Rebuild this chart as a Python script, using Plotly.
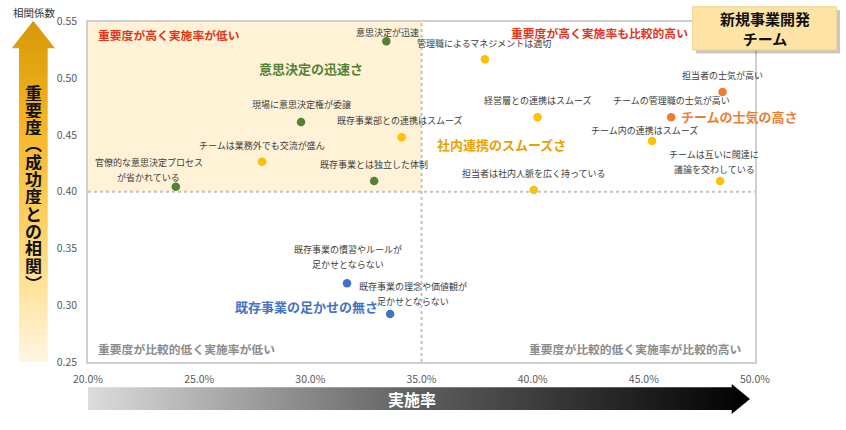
import plotly.graph_objects as go

W, H = 846, 430
FONT = "Noto Sans CJK JP"

# ---- データ ----
labels = [
    "意思決定が迅速",
    "現場に意思決定権が委譲",
    "既存事業部との連携はスムーズ",
    "チームは業務外でも交流が盛ん",
    "官僚的な意思決定プロセス\nが省かれている",
    "既存事業とは独立した体制",
    "管理職によるマネジメントは適切",
    "担当者の士気が高い",
    "経営層との連携はスムーズ",
    "チームの管理職の士気が高い",
    "チーム内の連携はスムーズ",
    "チームは互いに闊達に\n議論を交わしている",
    "担当者は社内人脈を広く持っている",
    "既存事業の慣習やルールが\n足かせとならない",
    "既存事業の理念や価値観が\n足かせとならない",
]
rate = [0.3342, 0.2958, 0.3411, 0.2783, 0.2395, 0.3287, 0.3785, 0.4854,
        0.4022, 0.4623, 0.4537, 0.4843, 0.4005, 0.3165, 0.3359]
corr = [0.5326, 0.4615, 0.4480, 0.4265, 0.4045, 0.4095, 0.5167, 0.4879,
        0.4656, 0.4656, 0.4447, 0.4095, 0.4015, 0.3193, 0.2923]
group = ["意思決定の迅速さ", "意思決定の迅速さ", "社内連携のスムーズさ", "社内連携のスムーズさ",
         "意思決定の迅速さ", "意思決定の迅速さ", "社内連携のスムーズさ", "チームの士気の高さ",
         "社内連携のスムーズさ", "チームの士気の高さ", "社内連携のスムーズさ", "社内連携のスムーズさ",
         "社内連携のスムーズさ", "既存事業の足かせの無さ", "既存事業の足かせの無さ"]

group_names = ["意思決定の迅速さ", "社内連携のスムーズさ", "チームの士気の高さ", "既存事業の足かせの無さ"]
quadrants = ["重要度が高く実施率が低い", "重要度が高く実施率も比較的高い",
             "重要度が比較的低く実施率が低い", "重要度が比較的低く実施率が比較的高い"]
x_ticks = [0.20, 0.25, 0.30, 0.35, 0.40, 0.45, 0.50]
y_ticks = [0.25, 0.30, 0.35, 0.40, 0.45, 0.50, 0.55]
x_mid, y_mid = 0.35, 0.40

# ---- スタイル ----
marker_color = {"意思決定の迅速さ": "#548235", "社内連携のスムーズさ": "#FFC000",
                "チームの士気の高さ": "#ED7D31", "既存事業の足かせの無さ": "#4472C4"}
name_color = {"意思決定の迅速さ": "#548235", "社内連携のスムーズさ": "#E8A200",
              "チームの士気の高さ": "#ED7D31", "既存事業の足かせの無さ": "#4472C4"}
name_pos = {"意思決定の迅速さ": (0.3005, 0.5082), "社内連携のスムーズさ": (0.386, 0.4418),
            "チームの士気の高さ": (0.4932, 0.4667), "既存事業の足かせの無さ": (0.2982, 0.2993)}
# ラベルの位置 (点からのピクセル移動: 右, 下)
label_off = [(1, -9), (0, -17), (-2, -17), (0, -16), (-27, -17), (0, -16), (-1, -16),
             (0, -16), (0, -17), (0, -17), (-8, -11), (-6, -19), (0, -17), (1, -26), (23, -20)]

# プロット領域 (ピクセル)
L, R, T, B = 88, 755, 21.5, 362

fig = go.Figure()

fig.add_trace(go.Scatter(
    x=rate, y=corr, mode="markers",
    marker=dict(size=8.5, color=[marker_color[g] for g in group]),
    hoverinfo="text", hovertext=[t.replace("\n", "") for t in labels],
    showlegend=False,
))

# 矢印 (装飾): 全体を覆う補助軸の上に描く
def py(v):
    return H - v

up_x = [19, 19, 11.7, 33.3, 55, 47.7, 47.7, 19]
up_y = [B, 48.3, 48.3, 20.7, 48.3, 48.3, B, B]
fig.add_trace(go.Scatter(
    x=up_x, y=[py(v) for v in up_y], xaxis="x2", yaxis="y2",
    mode="lines", line=dict(width=0), fill="toself",
    fillgradient=dict(type="vertical",
                      colorscale=[[0, "#FFF6E2"], [0.35, "#FFD672"], [0.7, "#F6B523"], [1, "#D69806"]]),
    hoverinfo="skip", showlegend=False,
))
rt_x = [L, 731.7, 731.7, 750, 731.7, 731.7, L, L]
rt_y = [387.3, 387.3, 384, 399, 414, 410, 410, 387.3]
fig.add_trace(go.Scatter(
    x=rt_x, y=[py(v) for v in rt_y], xaxis="x2", yaxis="y2",
    mode="lines", line=dict(width=0), fill="toself",
    fillgradient=dict(type="horizontal",
                      colorscale=[[0, "#DCDCDC"], [0.5, "#5E5E5E"], [1, "#000000"]]),
    hoverinfo="skip", showlegend=False,
))

ann = []
# 点のラベル
for i, t in enumerate(labels):
    lines = t.split("\n")
    n = len(lines)
    dx, dy = label_off[i]
    for k, ln in enumerate(lines):
        ann.append(dict(x=rate[i], y=corr[i], xref="x", yref="y", text=ln, showarrow=False,
                        xshift=dx, yshift=-(dy + (k - (n - 1) / 2) * 15),
                        font=dict(family=FONT, size=9, color="#3C3C3C")))
# グループ名
for g in group_names:
    gx, gy = name_pos[g]
    ann.append(dict(x=gx, y=gy, xref="x", yref="y", text="<b>%s</b>" % g, showarrow=False,
                    font=dict(family=FONT, size=13, color=name_color[g])))
# 象限ラベル
qstyle = [("#E2361B", 0.2038, 0.5387, "left"), ("#E2361B", 0.4302, 0.5407, "center"),
          ("#8C8C8C", 0.2038, 0.2623, "left"), ("#8C8C8C", 0.495, 0.2623, "right")]
for q, (c, qx, qy, xa) in zip(quadrants, qstyle):
    ann.append(dict(x=qx, y=qy, xref="x", yref="y", text="<b>%s</b>" % q, showarrow=False,
                    xanchor=xa, font=dict(family=FONT, size=11.8, color=c)))


def paper_text(px_, py_, text, size, color, **kw):
    return dict(x=px_ / W, y=1 - py_ / H, xref="paper", yref="paper", text=text,
                showarrow=False, xanchor="center", yanchor="middle",
                font=dict(family=FONT, size=size, color=color), **kw)


# 縦書きの軸タイトル
vt = "重要度︵成功度との相関︶"
for k, ch in enumerate(vt):
    ann.append(paper_text(33, 92 + k * 17.3, "<b>%s</b>" % ch, 17, "#111111",
                          height=17, borderpad=0))
ann.append(paper_text(34.5, 12, "相関係数", 10.5, "#333333"))
ann.append(paper_text(412, 399, "<b>実施率</b>", 16, "white"))
ann.append(paper_text(764.5, 29, "<b>新規事業開発<br>チーム</b>", 15, "#111111"))

shapes = [
    # 左上の象限の塗り
    dict(type="rect", xref="x", yref="y", x0=x_ticks[0], x1=x_mid, y0=y_mid, y1=y_ticks[-1],
         fillcolor="#FFF2D6", line=dict(width=0), layer="below"),
    dict(type="line", xref="x", yref="y", x0=x_mid, x1=x_mid, y0=y_ticks[0], y1=y_ticks[-1],
         line=dict(color="#C3C3C3", width=2, dash="dot")),
    dict(type="line", xref="x", yref="y", x0=x_ticks[0], x1=x_ticks[-1], y0=y_mid, y1=y_mid,
         line=dict(color="#C3C3C3", width=2, dash="dot")),
    # 凡例ボックス
    dict(type="rect", xref="paper", yref="paper", x0=696 / W, x1=840 / W,
         y0=1 - 53.5 / H, y1=1 - 10 / H, fillcolor="rgba(0,0,0,0.22)", line=dict(width=0)),
    dict(type="rect", xref="paper", yref="paper", x0=692.7 / W, x1=836.7 / W,
         y0=1 - 50 / H, y1=1 - 6.7 / H, fillcolor="#FDE3A6", line=dict(color="#F2D08A", width=1)),
]

fig.update_layout(
    width=W, height=H,
    margin=dict(l=0, r=0, t=0, b=0),
    paper_bgcolor="white", plot_bgcolor="rgba(0,0,0,0)",
    font=dict(family=FONT),
    showlegend=False,
    xaxis=dict(domain=[L / W, R / W], range=[x_ticks[0], x_ticks[-1]], tickvals=x_ticks,
               tickformat=".1%", showgrid=False, zeroline=False, automargin=False,
               showline=True, mirror=True, linecolor="#D0D0D0", linewidth=1.5,
               ticks="", ticklabelstandoff=7,
               tickfont=dict(family=FONT, size=10.5, color="#595959"), anchor="y"),
    yaxis=dict(domain=[1 - B / H, 1 - T / H], range=[y_ticks[0], y_ticks[-1]], tickvals=y_ticks,
               tickformat=".2f", showgrid=False, zeroline=False, automargin=False,
               showline=True, mirror=True, linecolor="#D0D0D0", linewidth=1.5,
               ticks="", ticklabelstandoff=7,
               tickfont=dict(family=FONT, size=10.5, color="#595959"), anchor="x"),
    xaxis2=dict(domain=[0, 1], range=[0, W], visible=False, anchor="y2", fixedrange=True,
                automargin=False),
    yaxis2=dict(domain=[0, 1], range=[0, H], visible=False, anchor="x2", fixedrange=True,
                automargin=False),
    annotations=ann,
    shapes=shapes,
)

fig.write_html("out.html", config={"displayModeBar": False},
               post_script="document.body.style.margin='0';")
